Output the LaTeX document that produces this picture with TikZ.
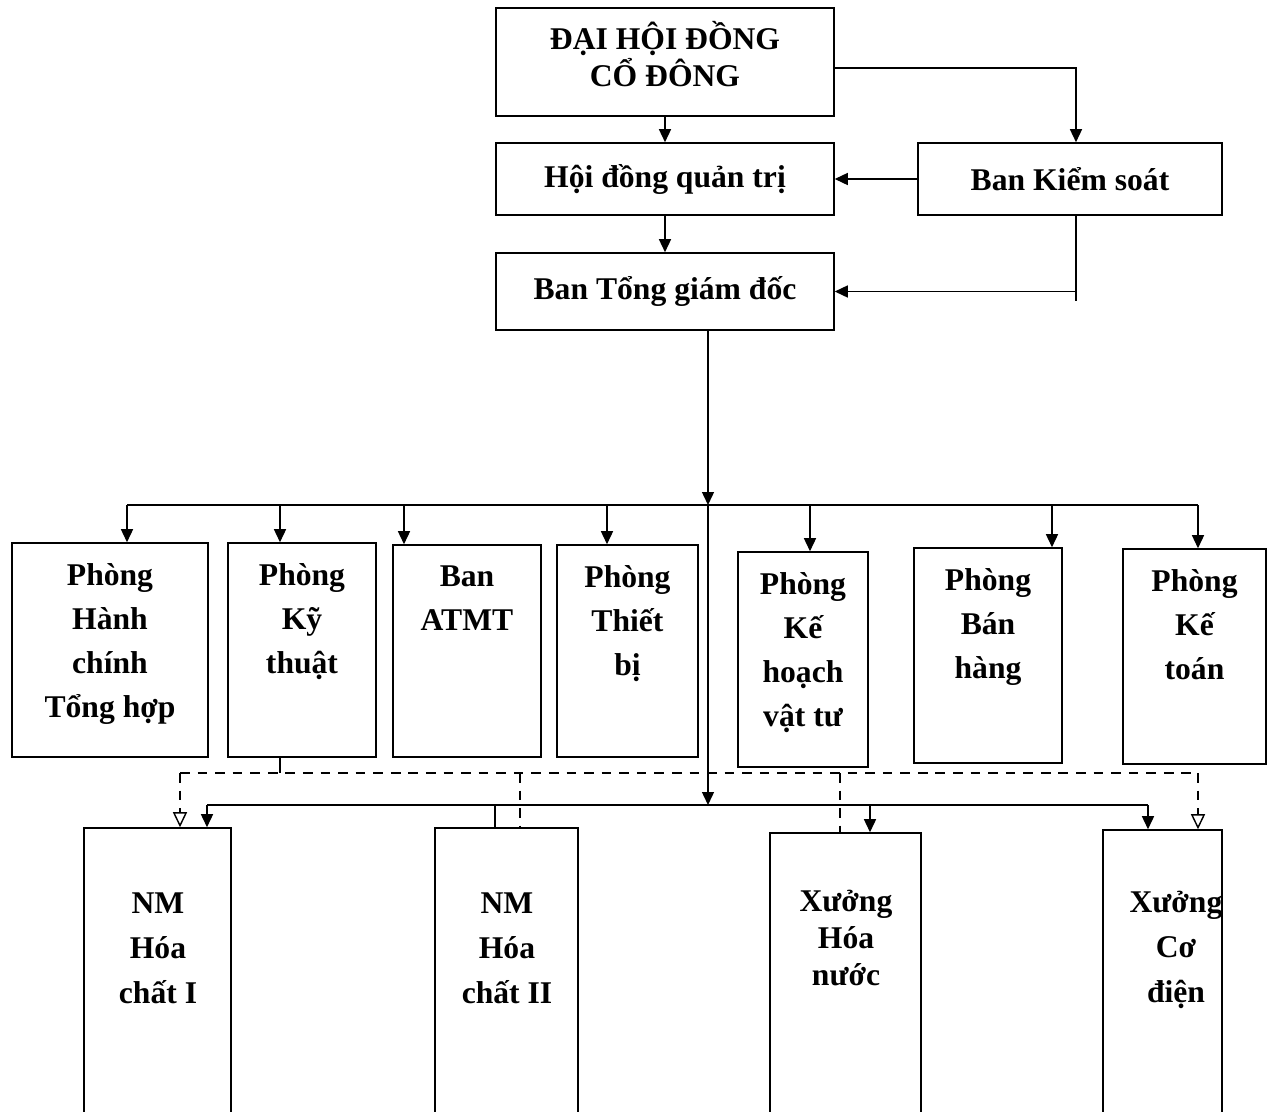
\documentclass[tikz,border=0pt]{standalone}
\usepackage{fontspec}
\setmainfont{Liberation Serif}
\usetikzlibrary{arrows.meta,positioning}

\begin{document}
\begin{tikzpicture}[x=0.02cm, y=-0.02cm,
  box/.style={draw, line width=0.9pt, inner sep=0pt},
  txt/.style={font=\fontsize{18}{25}\selectfont\bfseries, align=center, inner sep=0pt},
  lin/.style={line width=0.8pt},
  arr/.style={lin, -{Triangle[length=2.6mm, width=2.4mm]}},
  dsh/.style={lin, dash pattern=on 5.5pt off 4.5pt},
  darr/.style={dsh, -{Triangle[open, length=3mm, width=2.8mm]}}]
\clip (0,0) rectangle (1272,1112);
\def\ya{505};
\def\yb{805};
\def\yd{773};

% top of the company
\node[box, minimum width=6.76cm, minimum height=2.16cm] (dhcd) at (665,62) {};
\node[txt, font=\fontsize{18}{21}\selectfont\bfseries] (dhcd-t) at (665,54) {ĐẠI HỘI ĐỒNG\\CỔ ĐÔNG};
\node[box, txt, minimum width=6.76cm, minimum height=1.44cm] (hdqt) at (665,179) {Hội đồng quản trị};
\node[box, txt, minimum width=6.08cm, minimum height=1.44cm] (bks) at (1070,179) {Ban Kiểm soát};
\node[box, txt, minimum width=6.76cm, minimum height=1.54cm] (btgd) at (665,291.5) {Ban Tổng giám đốc};

\draw[arr] (dhcd) -- (hdqt);
\draw[arr] (hdqt) -- (btgd);
\draw[arr] ([yshift=-0.12cm]dhcd.east) -| ([xshift=0.12cm]bks.north);
\draw[arr] (bks) -- (hdqt);
\draw[lin] ([xshift=0.12cm]bks.south) -- ++(0,85);
\draw[arr] ([xshift=0.12cm]bks.south |- btgd.east) -- (btgd.east);

% departments
\node[box, minimum width=3.92cm, minimum height=4.28cm] (d1) at (110,650) {};
\node[box, minimum width=2.96cm, minimum height=4.28cm] (d2) at (302,650) {};
\node[box, minimum width=2.96cm, minimum height=4.24cm] (d3) at (467,651) {};
\node[box, minimum width=2.82cm, minimum height=4.24cm] (d4) at (627.5,651) {};
\node[box, minimum width=2.6cm, minimum height=4.3cm] (d5) at (803,659.5) {};
\node[box, minimum width=2.96cm, minimum height=4.3cm] (d6) at (988,655.5) {};
\node[box, minimum width=2.86cm, minimum height=4.3cm] (d7) at (1194.5,656.5) {};

\node[txt, below=0.42cm of d1.north] (d1-t) {Phòng\\Hành\\chính\\Tổng hợp};
\node[txt, below=0.42cm of d2.north] (d2-t) {Phòng\\Kỹ\\thuật};
\node[txt, below=0.42cm of d3.north] (d3-t) {Ban\\ATMT};
\node[txt, below=0.42cm of d4.north] (d4-t) {Phòng\\Thiết\\bị};
\node[txt, below=0.42cm of d5.north] (d5-t) {Phòng\\Kế\\hoạch\\vật tư};
\node[txt, below=0.42cm of d6.north] (d6-t) {Phòng\\Bán\\hàng};
\node[txt, below=0.42cm of d7.north] (d7-t) {Phòng\\Kế\\toán};

\coordinate (ya-l) at (127,\ya);
\coordinate (ya-m) at (708,\ya);
\coordinate (ya-r) at (1198,\ya);
\draw[arr] (btgd.south -| ya-m) -- (ya-m);
\draw[lin] (ya-l) -- (ya-r);
\foreach \d/\x in {d1/127, d2/280, d3/404, d4/607, d5/810, d6/1052, d7/1198}
  \draw[arr] (\x,\ya) -- (\x,0 |- \d.north);

% factories and workshops
\node[box, minimum width=2.94cm, minimum height=6cm] (n1) at (157.5,978) {};
\node[box, minimum width=2.86cm, minimum height=6cm] (n2) at (506.5,978) {};
\node[box, minimum width=3.02cm, minimum height=6cm] (x1) at (845.5,983) {};
\node[box, minimum width=2.38cm, minimum height=6cm] (x2) at (1162.5,980) {};

\node[txt, font=\fontsize{18}{25.5}\selectfont\bfseries] (n1-t) at (158,948) {NM\\Hóa\\chất I};
\node[txt, font=\fontsize{18}{25.5}\selectfont\bfseries] (n2-t) at (507,948) {NM\\Hóa\\chất II};
\node[txt, font=\fontsize{18}{21.3}\selectfont\bfseries] (x1-t) at (846,938) {Xưởng\\Hóa\\nước};
\node[txt, font=\fontsize{18}{25.5}\selectfont\bfseries] (x2-t) at (1176,950) {Xưởng\\Cơ\\điện};

\coordinate (yb-l) at (207,\yb);
\coordinate (yb-m) at (708,\yb);
\coordinate (yb-r) at (1148,\yb);
\draw[arr] (ya-m) -- (yb-m);
\draw[lin] (yb-l) -- (yb-r);
\draw[arr] (yb-l) -- (207,0 |- n1.north);
\draw[lin] (495,\yb) -- (495,0 |- n2.north);
\draw[arr] (870,\yb) -- (870,0 |- x1.north);
\draw[arr] (yb-r) -- (1148,0 |- x2.north);

% dashed links from Phong Ky thuat
\coordinate (yd-l) at (180,\yd);
\coordinate (yd-r) at (1198,\yd);
\draw[lin] (d2.south -| 280,0) -- (280,\yd);
\draw[dsh] (yd-l) -- (yd-r);
\draw[darr] (yd-l) -- (180,0 |- n1.north);
\draw[dsh] (520,\yd) -- (520,0 |- n2.north);
\draw[dsh] (840,\yd) -- (840,0 |- x1.north);
\draw[darr] (yd-r) -- (1198,0 |- x2.north);

\end{tikzpicture}
\end{document}
